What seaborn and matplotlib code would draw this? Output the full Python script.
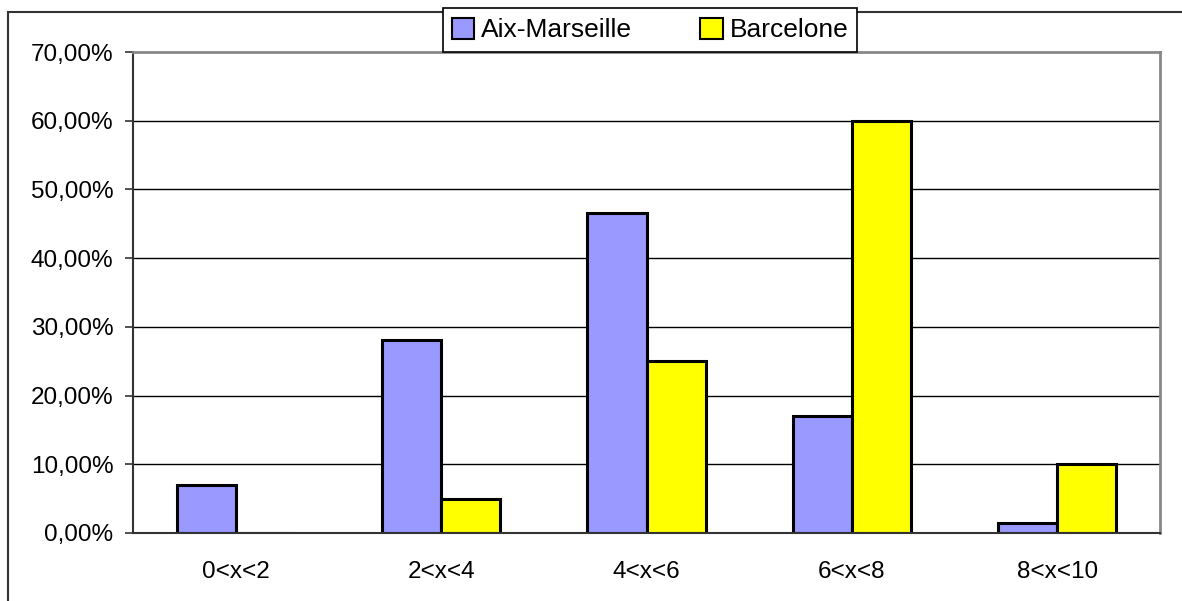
import numpy as np
import pandas as pd
import matplotlib
matplotlib.use("Agg")
import matplotlib.pyplot as plt
import seaborn as sns
from matplotlib.patches import Rectangle
from matplotlib.ticker import FuncFormatter, FixedLocator

# data
categories = ["0<x<2", "2<x<4", "4<x<6", "6<x<8", "8<x<10"]
aix_marseille = [7.0, 28.1, 46.5, 17.0, 1.5]
barcelone = [0.0, 5.0, 25.0, 60.0, 10.0]
series_names = ["Aix-Marseille", "Barcelone"]
series_colors = ["#9999FF", "#FFFF00"]
y_ticks = [0, 10, 20, 30, 40, 50, 60, 70]

df = pd.DataFrame({
    "cat": categories * 2,
    "val": aix_marseille + barcelone,
    "serie": [series_names[0]] * 5 + [series_names[1]] * 5,
})

sns.set_style("white")
plt.rcParams["font.family"] = ["Liberation Sans", "DejaVu Sans"]
plt.rcParams["font.size"] = 17.5
plt.rcParams["text.color"] = "black"
plt.rcParams["xtick.color"] = "black"
plt.rcParams["ytick.color"] = "black"

fig = plt.figure(figsize=(11.82, 6.01), dpi=100)
ax = fig.add_axes([133 / 1182, 1 - 533 / 601, (1160 - 133) / 1182, (533 - 52) / 601])

# grid lines first
for t in y_ticks[1:-1]:
    ax.axhline(t, color="black", lw=1, zorder=0)

sns.barplot(data=df, x="cat", y="val", hue="serie", palette=series_colors,
            saturation=1, width=0.575, gap=0, edgecolor="black", linewidth=2.2,
            ax=ax, legend=False, zorder=2)

ax.set_ylim(0, 70)
ax.set_xlim(-0.5, 4.5)
ax.set_yticks(y_ticks)
ax.yaxis.set_major_formatter(FuncFormatter(lambda v, p: f"{v:.2f}".replace(".", ",") + "%"))
ax.set_xlabel("")
ax.set_ylabel("")

# ticks: x tick marks at category boundaries, labels centred
ax.set_xticks(range(len(categories)))
ax.set_xticklabels(categories)
ax.xaxis.set_minor_locator(FixedLocator(np.arange(-0.5, 5.0, 1.0)))
ax.tick_params(axis="x", which="major", length=0, pad=20, labelsize=17.5)
ax.tick_params(axis="x", which="minor", length=7, width=1.2, color="#333333", direction="out")
ax.tick_params(axis="y", length=6, width=1.2, color="#333333", direction="out", left=True,
               pad=8, labelsize=17.5)

for s in ["left", "bottom"]:
    ax.spines[s].set_color("#333333")
    ax.spines[s].set_linewidth(1.5)
for s in ["top", "right"]:
    ax.spines[s].set_color("#888888")
    ax.spines[s].set_linewidth(2)
    ax.spines[s].set_visible(True)

# outer chart frame (only top and left visible in the picture)
fig.patches.append(Rectangle((8 / 1182, -0.2), 1.5, 1.2 - 12 / 601,
                             transform=fig.transFigure, fill=False,
                             edgecolor="#333333", lw=1.5, zorder=0))

handles = [Rectangle((0, 0), 1, 1, facecolor=c, edgecolor="black", lw=1.5) for c in series_colors]
leg = fig.legend(handles, series_names, loc="center", bbox_to_anchor=(650 / 1182, 1 - 30 / 601),
                 ncol=2, frameon=True, fancybox=False, handlelength=0.85, handleheight=0.85,
                 handletextpad=0.25, columnspacing=2.6, borderpad=0.35, borderaxespad=0,
                 fontsize=19)
leg.get_frame().set_edgecolor("black")
leg.get_frame().set_linewidth(1.2)
leg.get_frame().set_alpha(1)

fig.savefig("out.png", dpi=100)
